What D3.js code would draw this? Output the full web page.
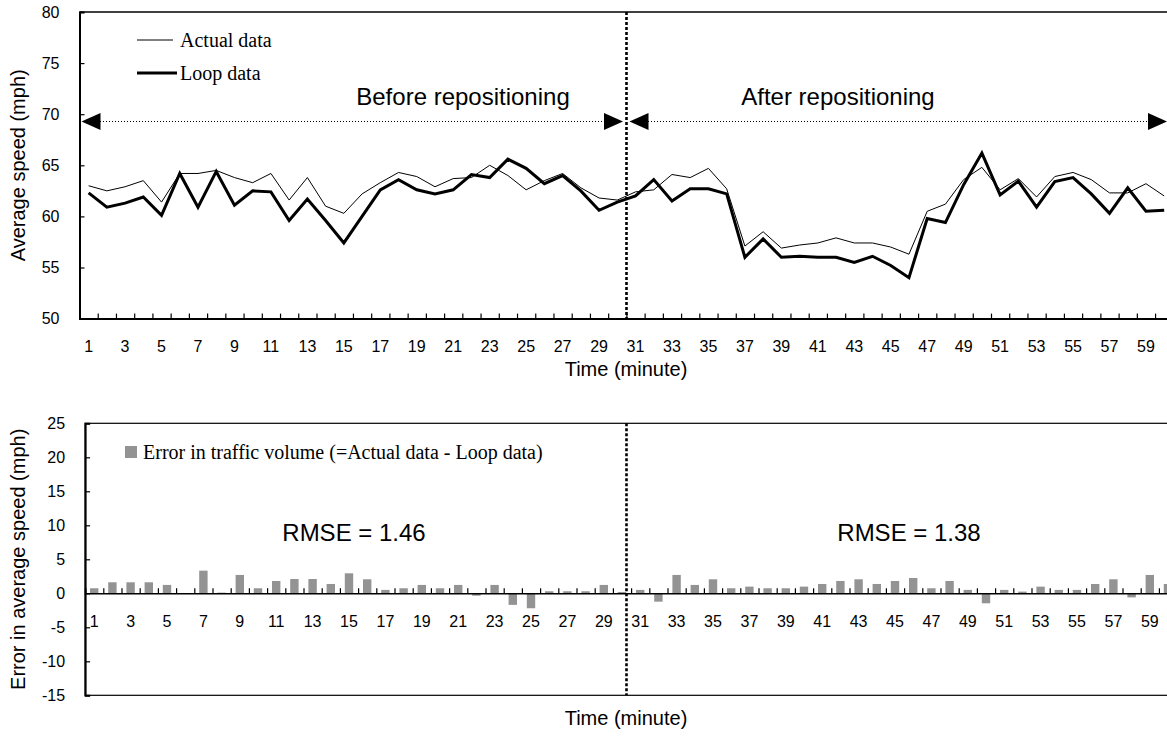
<!DOCTYPE html>
<html>
<head>
<meta charset="utf-8">
<script src="https://cdn.jsdelivr.net/npm/d3@7"></script>
<style>
  html, body { margin: 0; padding: 0; background: #fff; }
  svg { display: block; }
  .tick text { font-family: Arial, "Liberation Sans", sans-serif; font-size: 16px; fill: #000; }
</style>
</head>
<body>
<svg id="chart" width="1167" height="747"></svg>
<script>
// Minute index along the time axis
const minutes = d3.range(1, 61);
const minuteLabels = minutes.filter(m => m % 2 === 1);

// Average speed (mph) measured by the reference method
const actualSpeed = [
  63.0, 62.5, 62.9, 63.5, 61.4, 64.2, 64.2, 64.5, 63.8, 63.3,
  64.2, 61.6, 63.8, 61.0, 60.3, 62.2, 63.3, 64.3, 63.9, 62.9,
  63.7, 63.8, 65.0, 64.0, 62.6, 63.5, 64.2, 62.8, 61.8, 61.6,
  62.4, 62.6, 64.1, 63.8, 64.7, 62.7, 57.1, 58.5, 56.9, 57.2,
  57.4, 57.9, 57.4, 57.4, 57.0, 56.3, 60.5, 61.2, 63.6, 64.8,
  62.6, 63.7, 61.9, 63.9, 64.3, 63.6, 62.3, 62.3, 63.2, 62.0
];

// Average speed (mph) reported by the loop detector
const loopSpeed = [
  62.3, 60.9, 61.3, 61.9, 60.1, 64.2, 60.9, 64.4, 61.1, 62.5,
  62.4, 59.6, 61.7, 59.6, 57.4, 60.0, 62.6, 63.6, 62.6, 62.2,
  62.6, 64.1, 63.8, 65.6, 64.7, 63.2, 64.0, 62.5, 60.6, 61.4,
  62.0, 63.6, 61.5, 62.7, 62.7, 62.2, 56.0, 57.8, 56.0, 56.1,
  56.0, 56.0, 55.5, 56.1, 55.2, 54.0, 59.8, 59.4, 63.1, 66.2,
  62.1, 63.45, 60.9, 63.4, 63.8, 62.2, 60.3, 62.8, 60.5, 60.6
];

// Error = actual - loop (mph), one bar per minute
const speedError = [
  0.74, 1.62, 1.62, 1.62, 1.23, 0.0, 3.33, 0.1, 2.7, 0.74,
  1.81, 2.1, 2.1, 1.37, 2.94, 2.06, 0.5, 0.74, 1.23, 0.74,
  1.23, -0.35, 1.23, -1.7, -2.2, 0.3, 0.3, 0.3, 1.23, 0.2,
  0.5, -1.23, 2.7, 1.23, 2.06, 0.74, 0.98, 0.74, 0.74, 0.98,
  1.37, 1.81, 2.06, 1.37, 1.81, 2.25, 0.74, 1.81, 0.5, -1.47,
  0.5, 0.25, 0.98, 0.5, 0.5, 1.37, 2.06, -0.6, 2.7, 1.37
];

const speedTicks = [50, 55, 60, 65, 70, 75, 80];
const errorTicks = [-15, -10, -5, 0, 5, 10, 15, 20, 25];
const rmseBefore = 1.46;
const rmseAfter = 1.38;

const svg = d3.select("#chart");
const FONT_SANS = "Arial, 'Liberation Sans', sans-serif";
const FONT_SERIF = "'Times New Roman', 'Liberation Serif', serif";

// ---------- Top panel: speed lines ----------
const upper = { left: 79.5, right: 79.5 + 60 * 18.23, top: 12, bottom: 318.6 };

const xTop = d3.scaleBand().domain(minutes).range([upper.left, upper.right]).padding(0);
const xTopEdge = d3.scaleLinear().domain([0, 60]).range([upper.left, upper.right]);
const yTop = d3.scaleLinear().domain([50, 80]).range([upper.bottom, upper.top]);

const gTop = svg.append("g");

// frame top edge
gTop.append("line")
  .attr("x1", upper.left).attr("x2", upper.right)
  .attr("y1", upper.top).attr("y2", upper.top)
  .attr("stroke", "#000").attr("stroke-width", 1.5);

// y axis
const yAxisTop = gTop.append("g")
  .attr("transform", `translate(${upper.left},0)`)
  .call(d3.axisLeft(yTop).tickValues(speedTicks).tickSize(-5).tickPadding(20));
yAxisTop.select(".domain").attr("stroke-width", 2);
yAxisTop.selectAll(".tick line").attr("stroke-width", 1.2);

// x axis tick marks at minute boundaries
const xMarksTop = gTop.append("g")
  .attr("transform", `translate(0,${upper.bottom})`)
  .call(d3.axisBottom(xTopEdge).tickValues(d3.range(0, 61)).tickSize(-5).tickFormat(""));
xMarksTop.select(".domain").attr("stroke-width", 2);
xMarksTop.selectAll(".tick line").attr("stroke-width", 1.2);

// x axis labels at minute centres
const xLabTop = gTop.append("g")
  .attr("transform", `translate(0,${upper.bottom})`)
  .call(d3.axisBottom(xTop).tickValues(minuteLabels).tickSize(0).tickPadding(22));
xLabTop.select(".domain").remove();

// axis titles
gTop.append("text")
  .attr("x", 626).attr("y", 376)
  .attr("text-anchor", "middle")
  .attr("font-family", FONT_SANS).attr("font-size", 20)
  .text("Time (minute)");

gTop.append("text")
  .attr("transform", `translate(25,${(upper.top + upper.bottom) / 2}) rotate(-90)`)
  .attr("text-anchor", "middle")
  .attr("font-family", FONT_SANS).attr("font-size", 20)
  .text("Average speed (mph)");

// lines
const lineTop = d3.line()
  .x((d, i) => xTop(minutes[i]) + xTop.bandwidth() / 2)
  .y(d => yTop(d));

gTop.append("path")
  .datum(actualSpeed)
  .attr("d", lineTop)
  .attr("fill", "none").attr("stroke", "#000").attr("stroke-width", 1)
  .attr("stroke-linejoin", "miter");

gTop.append("path")
  .datum(loopSpeed)
  .attr("d", lineTop)
  .attr("fill", "none").attr("stroke", "#000").attr("stroke-width", 3)
  .attr("stroke-linejoin", "miter");

// legend
const legendTop = gTop.append("g");
legendTop.append("line")
  .attr("x1", 137).attr("x2", 173).attr("y1", 40).attr("y2", 40)
  .attr("stroke", "#000").attr("stroke-width", 1);
legendTop.append("text")
  .attr("x", 180).attr("y", 47)
  .attr("font-family", FONT_SERIF).attr("font-size", 20)
  .text("Actual data");
legendTop.append("line")
  .attr("x1", 137).attr("x2", 177).attr("y1", 73).attr("y2", 73)
  .attr("stroke", "#000").attr("stroke-width", 3);
legendTop.append("text")
  .attr("x", 180).attr("y", 80)
  .attr("font-family", FONT_SERIF).attr("font-size", 20)
  .text("Loop data");

// period arrows
const splitX = 626.5;
const arrowY = 121.5;
function arrowHead(g, tipX, dir) {
  const base = tipX + dir * 19;
  g.append("path")
    .attr("d", `M${tipX},${arrowY} L${base},${arrowY - 8.5} L${base},${arrowY + 8.5} Z`)
    .attr("fill", "#000");
}
const arrows = gTop.append("g");
arrows.append("line")
  .attr("x1", 100).attr("x2", 604).attr("y1", arrowY).attr("y2", arrowY)
  .attr("stroke", "#000").attr("stroke-width", 1).attr("stroke-dasharray", "1,2");
arrows.append("line")
  .attr("x1", 648).attr("x2", 1148).attr("y1", arrowY).attr("y2", arrowY)
  .attr("stroke", "#000").attr("stroke-width", 1).attr("stroke-dasharray", "1,2");
arrowHead(arrows, 81.5, 1);
arrowHead(arrows, 623, -1);
arrowHead(arrows, 629.5, 1);
arrowHead(arrows, 1167, -1);

gTop.append("text")
  .attr("x", 463).attr("y", 105)
  .attr("text-anchor", "middle")
  .attr("font-family", FONT_SANS).attr("font-size", 24)
  .text("Before repositioning");
gTop.append("text")
  .attr("x", 838).attr("y", 105)
  .attr("text-anchor", "middle")
  .attr("font-family", FONT_SANS).attr("font-size", 24)
  .text("After repositioning");

// period divider
gTop.append("line")
  .attr("x1", splitX).attr("x2", splitX)
  .attr("y1", upper.top).attr("y2", upper.bottom)
  .attr("stroke", "#000").attr("stroke-width", 2.6).attr("stroke-dasharray", "3,2");

// ---------- Bottom panel: error bars ----------
const lower = { left: 85.1, right: 85.1 + 60 * 18.2, top: 423.3, bottom: 695.3 };

const xBot = d3.scaleBand().domain(minutes).range([lower.left, lower.right]).padding(0);
const xBotEdge = d3.scaleLinear().domain([0, 60]).range([lower.left, lower.right]);
const yBot = d3.scaleLinear().domain([-15, 25]).range([lower.bottom, lower.top]);

const gBot = svg.append("g");

gBot.append("rect")
  .attr("x", lower.left).attr("y", lower.top)
  .attr("width", lower.right - lower.left).attr("height", lower.bottom - lower.top)
  .attr("fill", "none").attr("stroke", "#000").attr("stroke-width", 1.2);

const yAxisBot = gBot.append("g")
  .attr("transform", `translate(${lower.left},0)`)
  .call(d3.axisLeft(yBot).tickValues(errorTicks).tickSize(-5).tickPadding(20)
    .tickFormat(d => d < 0 ? "-" + Math.abs(d) : String(d)));
yAxisBot.select(".domain").attr("stroke-width", 2);
yAxisBot.selectAll(".tick line").attr("stroke-width", 1.2);

// bars
const barW = 8.4;
gBot.append("g")
  .selectAll("rect")
  .data(speedError)
  .join("rect")
  .attr("x", (d, i) => xBot(minutes[i]) + xBot.bandwidth() / 2 - barW / 2)
  .attr("y", d => yBot(Math.max(0, d)))
  .attr("width", barW)
  .attr("height", d => Math.abs(yBot(d) - yBot(0)))
  .attr("fill", "#939393");

// zero axis with boundary ticks
const xMarksBot = gBot.append("g")
  .attr("transform", `translate(0,${yBot(0)})`)
  .call(d3.axisBottom(xBotEdge).tickValues(d3.range(0, 61)).tickSize(-5).tickFormat(""));
xMarksBot.select(".domain").attr("stroke-width", 1.5);
xMarksBot.selectAll(".tick line").attr("stroke-width", 1.2);

const xLabBot = gBot.append("g")
  .attr("transform", `translate(0,${yBot(0)})`)
  .call(d3.axisBottom(xBot).tickValues(minuteLabels).tickSize(0).tickPadding(22));
xLabBot.select(".domain").remove();

gBot.append("text")
  .attr("x", 626).attr("y", 725)
  .attr("text-anchor", "middle")
  .attr("font-family", FONT_SANS).attr("font-size", 20)
  .text("Time (minute)");

gBot.append("text")
  .attr("transform", `translate(25,${(lower.top + lower.bottom) / 2}) rotate(-90)`)
  .attr("text-anchor", "middle")
  .attr("font-family", FONT_SANS).attr("font-size", 20)
  .text("Error in average speed (mph)");

// legend
gBot.append("rect")
  .attr("x", 125).attr("y", 446).attr("width", 12).attr("height", 12)
  .attr("fill", "#939393");
gBot.append("text")
  .attr("x", 143).attr("y", 459)
  .attr("font-family", FONT_SERIF).attr("font-size", 20)
  .text("Error in traffic volume (=Actual data - Loop data)");

// RMSE annotations
gBot.append("text")
  .attr("x", 354).attr("y", 541)
  .attr("text-anchor", "middle")
  .attr("font-family", FONT_SANS).attr("font-size", 24)
  .text(`RMSE = ${rmseBefore.toFixed(2)}`);
gBot.append("text")
  .attr("x", 909).attr("y", 541)
  .attr("text-anchor", "middle")
  .attr("font-family", FONT_SANS).attr("font-size", 24)
  .text(`RMSE = ${rmseAfter.toFixed(2)}`);

gBot.append("line")
  .attr("x1", splitX).attr("x2", splitX)
  .attr("y1", lower.top).attr("y2", lower.bottom)
  .attr("stroke", "#000").attr("stroke-width", 2.6).attr("stroke-dasharray", "3,2");
</script>
</body>
</html>
